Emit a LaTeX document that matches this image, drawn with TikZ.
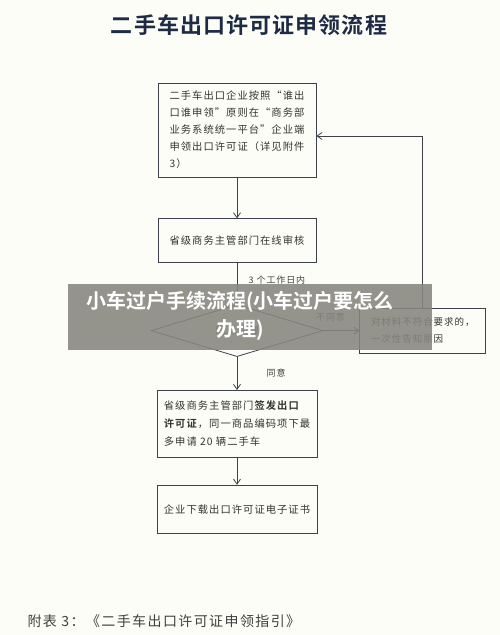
\documentclass[tikz,border=0pt]{standalone}
\usepackage{fontspec}
\setmainfont{Noto Sans CJK SC}[BoldFont={Noto Sans CJK SC Bold}]
\newfontfamily\boxfont{Noto Sans CJK SC}[LetterSpace=10,BoldFont={Noto Sans CJK SC Bold}]
\newfontfamily\titlefont{Noto Sans CJK SC Bold}[LetterSpace=5]
\usetikzlibrary{arrows.meta, positioning, shapes.geometric}
\definecolor{paper}{HTML}{FDFDF7}
\definecolor{ink}{HTML}{3C414B}
\definecolor{titleblue}{HTML}{1E2B44}
\definecolor{bannergray}{HTML}{86867F}

\begin{document}
\begin{tikzpicture}[
    x=1pt, y=-1pt,
    node distance=41pt,
    proc/.style={draw=ink, line width=0.8pt, minimum width=158pt, align=left, inner sep=0pt,
        text=black!80, font=\boxfont\fontsize{10.3}{17}\selectfont},
    dec/.style={diamond, draw=ink, line width=0.8pt, aspect=3.3, inner sep=0pt,
        minimum width=172pt, minimum height=52pt, text=black!75, font=\boxfont\fontsize{10}{12}\selectfont},
    lab/.style={text=black!75, font=\boxfont\fontsize{9}{11}\selectfont},
    link/.style={->, draw=ink, line width=0.8pt},
    >={Straight Barb[length=5pt, width=7pt]}
]
\useasboundingbox[fill=paper] (0,0) rectangle (500,635);
\node[text=titleblue, font=\titlefont\fontsize{22}{26}\selectfont] (title) at (249,25) {二手车出口许可证申领流程};
\node[proc, minimum height=94pt] (apply) at (237,130) {二手车出口企业按照“谁出\\口谁申领”原则在“商务部\\业务系统统一平台”企业端\\申领出口许可证（详见附件\\3）};
\node[proc, minimum height=44pt, below=of apply] (review) {省级商务主管部门在线审核};
\node[dec, below=of review] (check) {同意受理};
\node[proc, minimum width=126pt, minimum height=45pt, right=36pt of check,
    font=\boxfont\fontsize{9.5}{17}\selectfont] (reject) {对材料不符合要求的，\\一次性告知原因};
\node[proc, minimum width=160pt, minimum height=67pt, below=33pt of check,
    font=\boxfont\fontsize{10.3}{18}\selectfont] (issue) {省级商务主管部门\textbf{签发出口}\\\textbf{许可证}，同一商品编码项下最\\多申请 20 辆二手车};
\node[proc, minimum width=160pt, minimum height=48pt, below=27pt of issue] (download) {企业下载出口许可证电子证书};
\draw[link] (apply) -- (review);
\draw[link] (review) -- node[lab, right=8pt, pos=0.4] {3 个工作日内} (check);
\draw[link] (check) -- node[lab, above=6pt, pos=0.2] {不同意} (reject);
\draw[link] (check) -- node[lab, right=26pt] {同意} (issue);
\draw[link] (issue) -- (download);
\draw[link] (reject.north) |- ([yshift=-6pt]apply.east);
\node[anchor=west, text=black!75, font=\boxfont\fontsize{14}{16}\selectfont] (note) at (24,621) {附表 3：《二手车出口许可证申领指引》};
\fill[bannergray, opacity=0.88] (68,284) rectangle (432,350);
\node[align=center, text=white, font=\bfseries\fontsize{20}{28}\selectfont] (banner) at (240,316) {小车过户手续流程(小车过户要怎么\\办理)};
\end{tikzpicture}
\end{document}
